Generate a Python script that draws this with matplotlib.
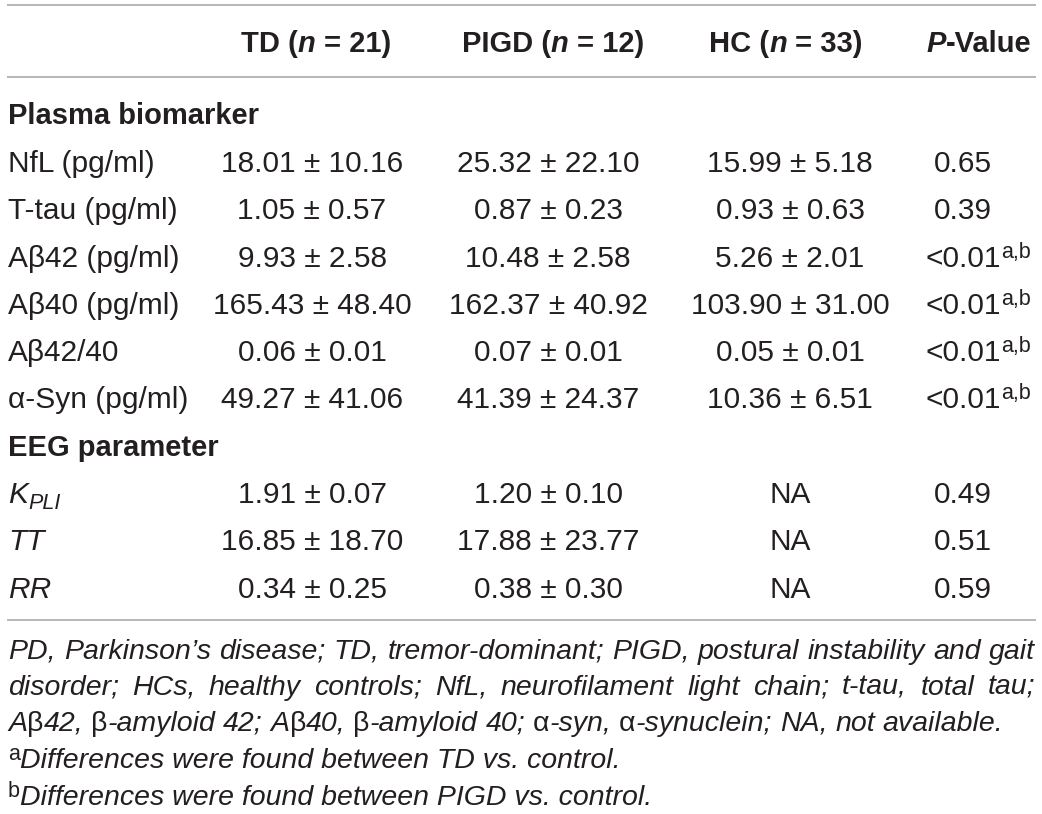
import matplotlib
matplotlib.use('Agg')
import matplotlib.pyplot as plt

# ---- table data ----
groups = ['TD', 'PIGD', 'HC']
group_n = [21, 12, 33]

plasma_labels = ['NfL (pg/ml)', 'T-tau (pg/ml)', 'Aβ42 (pg/ml)', 'Aβ40 (pg/ml)',
                 'Aβ42/40', 'α-Syn (pg/ml)']
eeg_labels = ['K', 'TT', 'RR']   # K gets the PLI subscript

td_mean = [18.01, 1.05, 9.93, 165.43, 0.06, 49.27, 1.91, 16.85, 0.34]
td_sd = [10.16, 0.57, 2.58, 48.40, 0.01, 41.06, 0.07, 18.70, 0.25]
pigd_mean = [25.32, 0.87, 10.48, 162.37, 0.07, 41.39, 1.20, 17.88, 0.38]
pigd_sd = [22.10, 0.23, 2.58, 40.92, 0.01, 24.37, 0.10, 23.77, 0.30]
hc_mean = [15.99, 0.93, 5.26, 103.90, 0.05, 10.36, None, None, None]
hc_sd = [5.18, 0.63, 2.01, 31.00, 0.01, 6.51, None, None, None]
p_values = ['0.65', '0.39', '<0.01', '<0.01', '<0.01', '<0.01', '0.49', '0.51', '0.59']
p_marks = ['', '', 'a,b', 'a,b', 'a,b', 'a,b', '', '', '']

footnote_par = ("PD, Parkinson’s disease; TD, tremor-dominant; PIGD, postural instability and gait "
                "disorder; HCs, healthy controls; NfL, neurofilament light chain; t-tau, total tau; "
                "Aβ42, β-amyloid 42; Aβ40, β-amyloid 40; α-syn, α-synuclein; NA, not available.")
footnote_a = 'Differences were found between TD vs. control.'
footnote_b = 'Differences were found between PIGD vs. control.'

FONT = 'Liberation Sans'
INK = '#231f20'
BODY = 21.5
HEAD = 21
NOTE = 20.5
SUP = 15.5

fig = plt.figure(figsize=(10.42, 8.14), dpi=100)
ax = fig.add_axes([0, 0, 1, 1])
ax.set_xlim(0, 1042)
ax.set_ylim(814, 0)
ax.axis('off')
fig.canvas.draw()
renderer = fig.canvas.get_renderer()


def text_width(s, **kw):
    # advance width, measured between two bars so spaces count
    if not s:
        return 0.0
    t = ax.text(0, 0, '|' + s + '|', fontfamily=FONT, **kw)
    r = ax.text(0, 0, '||', fontfamily=FONT, **kw)
    w = t.get_window_extent(renderer).width - r.get_window_extent(renderer).width
    t.remove()
    r.remove()
    return w


def draw_runs(x, y, runs, ha='left', anchor=None):
    widths = [text_width(s, **p) for s, p, dy in runs]
    total = sum(widths) if anchor is None else sum(widths[:anchor])
    if ha == 'center':
        pen = x - total / 2
    elif ha == 'right':
        pen = x - total
    else:
        pen = x
    for (s, p, dy), w in zip(runs, widths):
        stripped = s.lstrip(' ')
        lead = text_width(s[:len(s) - len(stripped)], **p)
        ax.text(pen + lead, y + dy, stripped, fontfamily=FONT, color=INK,
                va='baseline', ha='left', **p)
        pen += w


def greek_runs(word, size):
    # greek letters stay upright inside the italic footnote
    runs = []
    for ch in word:
        style = 'normal' if ch in 'αβ' else 'italic'
        if runs and runs[-1][1]['fontstyle'] == style:
            runs[-1] = (runs[-1][0] + ch, runs[-1][1], 0)
        else:
            runs.append((ch, {'fontsize': size, 'fontstyle': style}, 0))
    return runs


def draw_words(y, words, x0, x1=None):
    word_runs = [greek_runs(w, NOTE) for w in words]
    word_w = [sum(text_width(s, **p) for s, p, _ in r) for r in word_runs]
    if x1 is None:
        gap = text_width(' ', fontsize=NOTE, fontstyle='italic')
    else:
        gap = (x1 - x0 - sum(word_w)) / (len(words) - 1)
    pen = x0
    for r, w in zip(word_runs, word_w):
        draw_runs(pen, y, r)
        pen += w + gap


# ---- rules ----
for yy in [5, 76.5, 620]:
    ax.plot([7, 1036], [yy, yy], color='#a3a3a3', lw=1.1, solid_capstyle='butt')

# ---- header ----
bold = {'fontsize': HEAD, 'fontweight': 'bold'}
bold_it = {'fontsize': HEAD, 'fontweight': 'bold', 'fontstyle': 'italic'}
head_x = [316, 553, 786]
for g, n, hx in zip(groups, group_n, head_x):
    draw_runs(hx, 52, [(g + ' (', bold, 0), ('n', bold_it, 0), (f' = {n})', bold, 0)], ha='center')
draw_runs(979, 52, [('P', bold_it, 0), ('-Value', bold, 0)], ha='center')

# ---- body ----
reg = {'fontsize': BODY}
ital = {'fontsize': BODY, 'fontstyle': 'italic'}
col_x = [312, 548, 790, 963]
row_y0 = 172
row_step = 47.3

draw_runs(8, 124.5, [('Plasma biomarker', bold, 0)])
draw_runs(8, 124.5 + 7 * row_step, [('EEG parameter', bold, 0)])

row_labels = [[(lab, reg, 0)] for lab in plasma_labels]
row_labels += [[('K', ital, 0), ('PLI', {'fontsize': SUP, 'fontstyle': 'italic'}, 6)],
               [('TT', ital, 0)], [('RR', ital, 0)]]
row_ys = [row_y0 + i * row_step for i in range(6)] + [row_y0 + (i + 7) * row_step for i in range(3)]

for i, (runs, yy) in enumerate(zip(row_labels, row_ys)):
    draw_runs(8, yy, runs)
    cells = [(td_mean[i], td_sd[i]), (pigd_mean[i], pigd_sd[i]), (hc_mean[i], hc_sd[i])]
    for (m, s), cx in zip(cells, col_x[:3]):
        txt = 'NA' if m is None else f'{m:.2f} ± {s:.2f}'
        draw_runs(cx, yy, [(txt, reg, 0)], ha='center')
    p_runs = [(p_values[i], reg, 0)]
    if p_marks[i]:
        p_runs.append((p_marks[i], {'fontsize': SUP}, -9))
    draw_runs(col_x[3], yy, p_runs, ha='center', anchor=1)

# ---- footnotes ----
words = footnote_par.split(' ')
line1 = words[:words.index('gait') + 1]
rest = words[len(line1):]
line2 = rest[:rest.index('tau;', rest.index('total')) + 1]
line3 = rest[len(line2):]
draw_words(659, line1, 8, 1035)
draw_words(695, line2, 8, 1035)
draw_words(731, line3, 8)

sup_note = {'fontsize': SUP}
note_it = {'fontsize': NOTE, 'fontstyle': 'italic'}
draw_runs(8, 768, [('a', sup_note, -8), (footnote_a, note_it, 0)])
draw_runs(8, 805, [('b', sup_note, -8), (footnote_b, note_it, 0)])

fig.savefig('out.png', dpi=100)
